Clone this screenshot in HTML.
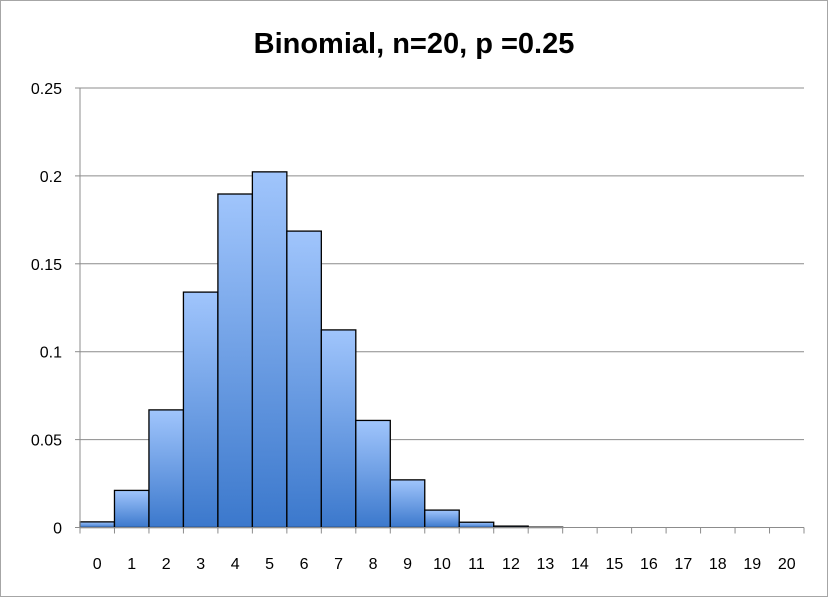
<!DOCTYPE html>
<html><head><meta charset="utf-8"><style>
body{margin:0;background:#fff;font-family:"Liberation Sans",sans-serif}
</style></head><body>
<svg width="828" height="597" xmlns="http://www.w3.org/2000/svg">
<defs><linearGradient id="g" x1="0" y1="0" x2="0" y2="1"><stop offset="0" stop-color="#a0c5fc"/><stop offset="1" stop-color="#3b78cc"/></linearGradient></defs>
<rect x="0.5" y="0.5" width="827" height="596" fill="#fff" stroke="#a6a6a6"/>
<text x="414" y="53" text-anchor="middle" font-size="29" font-weight="bold" fill="#000">Binomial, n=20, p =0.25</text>
<g id="grid"></g><g id="bars"></g><g id="axes"></g>
</svg>
<script>
const categories=["0","1","2","3","4","5","6","7","8","9","10","11","12","13","14","15","16","17","18","19","20"];
const values=[0.0032,0.0211,0.0669,0.1339,0.1897,0.2023,0.1686,0.1124,0.0609,0.0271,0.0099,0.0030,0.0008,0.0002,0.00003,0,0,0,0,0,0];
const yTicks=[0,0.05,0.1,0.15,0.2,0.25];
const yTickLabels=["0","0.05","0.1","0.15","0.2","0.25"];
const NS="http://www.w3.org/2000/svg";
const x0=80,x1=804,yTop=88,yBot=527.5,yMax=0.25;
const bw=(x1-x0)/categories.length;
const y=v=>yBot-(v/yMax)*(yBot-yTop);
const xs=i=>x0+i*bw;
function mk(tag,attrs,parent){const e=document.createElementNS(NS,tag);for(const k in attrs)e.setAttribute(k,attrs[k]);document.getElementById(parent).appendChild(e);return e;}
yTicks.forEach((t,i)=>{
 if(t>0){const l=mk('line',{x1:x0,x2:x1,y1:y(t),y2:y(t),stroke:'#8c8c8c','stroke-width':1},'grid');
 
 }
 const tk=mk('line',{x1:x0-5,x2:x0,y1:y(t),y2:y(t),stroke:'#8c8c8c'},'axes');
 
 
 const tx=mk('text',{x:62,y:y(t)+6,'text-anchor':'end','font-size':16,fill:'#000'},'axes');
 tx.textContent=yTickLabels[i];
 
 
});
values.forEach((v,i)=>{
 const h=yBot-y(v);
 if(h>0.3){const r=mk('rect',{x:xs(i),y:y(v),width:bw,height:h,fill:'url(#g)',stroke:'#000','stroke-width':1.3},'bars');
 
 }
});
const ax=mk('line',{x1:x0,x2:x0,y1:yTop,y2:yBot,stroke:'#8c8c8c'},'axes');


const bx=mk('line',{x1:x0,x2:x1,y1:yBot,y2:yBot,stroke:'#8c8c8c'},'axes');


for(let i=0;i<=categories.length;i++){
 const t=mk('line',{x1:xs(i),x2:xs(i),y1:yBot,y2:yBot+6,stroke:'#8c8c8c'},'axes');
 
 
}
categories.forEach((c,i)=>{
 const t=mk('text',{x:xs(i)+bw/2,y:569,'text-anchor':'middle','font-size':16,fill:'#000'},'axes');
 t.textContent=c;
 
 
});
</script>
</body></html>
